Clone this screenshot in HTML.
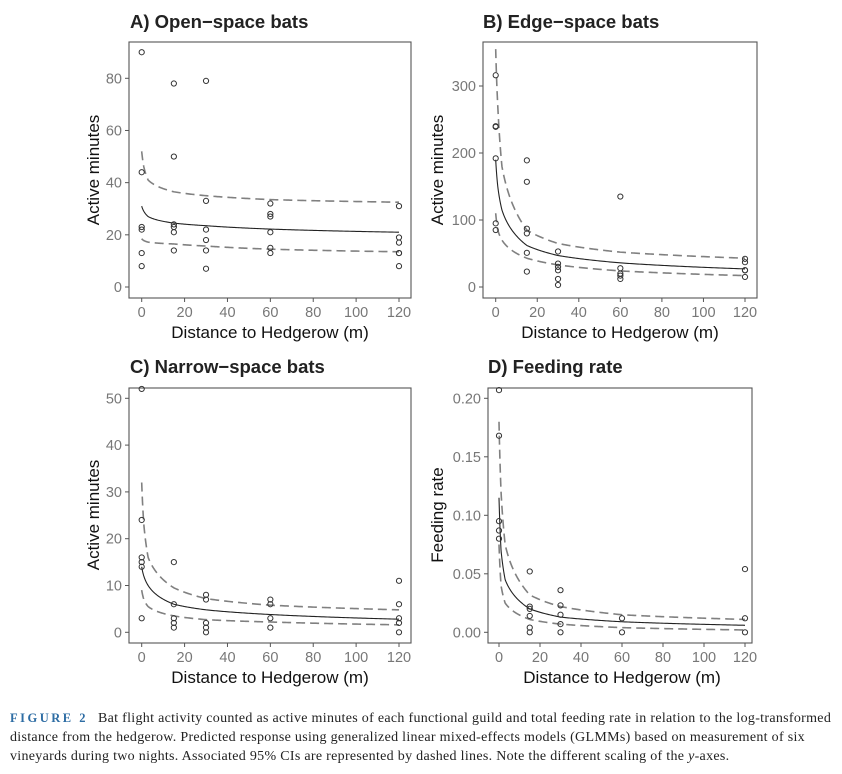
<!DOCTYPE html>
<html><head><meta charset="utf-8"><style>
body{margin:0;background:#fff;width:842px;height:774px;overflow:hidden;position:relative;font-family:"Liberation Sans",sans-serif}
svg{position:absolute;left:0;top:0}
.cap{position:absolute;left:10px;top:709px;width:840px;white-space:nowrap;font-family:"Liberation Serif",serif;font-size:14px;letter-spacing:0.3px;line-height:19px;color:#222}
.cap b{color:#2e6da4;letter-spacing:2.5px;font-size:12.5px;margin-right:10px}
</style></head><body>
<svg id="s" width="842" height="774" xmlns="http://www.w3.org/2000/svg" font-family="Liberation Sans, sans-serif">
<g font-weight="bold" font-size="18.5" fill="#222">
<text x="130" y="28">A) Open−space bats</text>
<text x="483" y="28">B) Edge−space bats</text>
<text x="130" y="373">C) Narrow−space bats</text>
<text x="488" y="373">D) Feeding rate</text>
</g>
<g font-size="17" fill="#111" text-anchor="middle">
<text x="270" y="338">Distance to Hedgerow (m)</text>
<text x="620" y="338">Distance to Hedgerow (m)</text>
<text x="270" y="683">Distance to Hedgerow (m)</text>
<text x="622" y="683">Distance to Hedgerow (m)</text>
<text transform="translate(99,170) rotate(-90)">Active minutes</text>
<text transform="translate(443,170) rotate(-90)">Active minutes</text>
<text transform="translate(99,515) rotate(-90)">Active minutes</text>
<text transform="translate(443,515) rotate(-90)">Feeding rate</text>
</g>
<g id="g"></g>
</svg>
<div class="cap"><b>FIGURE 2</b>Bat flight activity counted as active minutes of each functional guild and total feeding rate in relation to the log-transformed<br>distance from the hedgerow. Predicted response using generalized linear mixed-effects models (GLMMs) based on measurement of six<br>vineyards during two nights. Associated 95% CIs are represented by dashed lines. Note the different scaling of the <i>y</i>-axes.</div>
<script>
var K=[0,1,3,15,30,60,120];
var P=[
{box:[129,42,411,298],x0:141.7,x1:399,y0:287,yv:80,yp:78.3,ticks:[0,20,40,60,80],fmt:0,
m:[31,29,27,24.5,23.5,22.2,21],u:[52,46,41,36.5,35,33.5,32.5],l:[18.5,17.8,17.2,16.5,15.7,14.5,13.5],
pts:{0:[90,44,23,22,13,8],15:[78,50,24,23,21,14],30:[79,33,22,18,14,7],60:[32,28,27,21,15,13],120:[31,19,17,13,13,8]}},
{box:[483,42,757,298],x0:495.7,x1:745,y0:287,yv:300,yp:86,ticks:[0,100,200,300],fmt:0,
m:[190,150,115,62,47,36,27],u:[355,270,180,85,65,52,43],l:[110,85,70,43,33,24,17],
pts:{0:[316,240,239,192,95,85],15:[189,157,87,80,51,23],30:[53,35,30,25,12,3],60:[135,28,20,17,12],120:[42,37,25,25,15]}},
{box:[129,388,411,643],x0:141.7,x1:399,y0:632.3,yv:50,yp:398.3,ticks:[0,10,20,30,40,50],fmt:0,
m:[14,12,10,6,4.8,3.8,2.8],u:[32,23,16,9.5,7.2,5.8,4.8],l:[9,7,5.5,3.5,2.7,2.2,1.6],
pts:{0:[52,24,16,15,14,3],15:[15,6,3,2,1],30:[8,7,2,1,0],60:[7,6,3,1],120:[11,6,3,2,0]}},
{box:[488,388,752,643],x0:499,x1:745,y0:632.3,yv:0.2,yp:398.3,ticks:[0,0.05,0.1,0.15,0.2],fmt:2,
m:[0.115,0.07,0.045,0.02,0.013,0.009,0.006],u:[0.18,0.12,0.075,0.032,0.022,0.015,0.011],l:[0.075,0.04,0.025,0.011,0.007,0.004,0.002],
pts:{0:[0.207,0.168,0.095,0.087,0.080],15:[0.052,0.022,0.020,0.014,0.004,0],30:[0.036,0.023,0.015,0.007,0],60:[0.012,0],120:[0.054,0.012,0]}}
];
var g=document.getElementById('g'),h='';
function interp(v,x){var t=Math.log(x+1);for(var i=0;i<K.length-1;i++){var a=Math.log(K[i]+1),b=Math.log(K[i+1]+1);if(t<=b){return v[i]+(v[i+1]-v[i])*(t-a)/(b-a);}}return v[v.length-1];}
P.forEach(function(p){
var X=function(x){return p.x0+(p.x1-p.x0)*x/120},Y=function(y){return p.y0+(p.yp-p.y0)*y/p.yv};
var b=p.box;
h+='<rect x="'+b[0]+'" y="'+b[1]+'" width="'+(b[2]-b[0])+'" height="'+(b[3]-b[1])+'" fill="none" stroke="#555" stroke-width="1.1"/>';
[0,20,40,60,80,100,120].forEach(function(t){var x=X(t);h+='<line x1="'+x+'" x2="'+x+'" y1="'+b[3]+'" y2="'+(b[3]+4)+'" stroke="#555"/><text x="'+x+'" y="'+(b[3]+19)+'" font-size="14.5" fill="#777" text-anchor="middle">'+t+'</text>';});
p.ticks.forEach(function(t){var y=Y(t);h+='<line x1="'+(b[0]-4)+'" x2="'+b[0]+'" y1="'+y+'" y2="'+y+'" stroke="#555"/><text x="'+(b[0]-7)+'" y="'+(y+5)+'" font-size="14.5" fill="#777" text-anchor="end">'+t.toFixed(p.fmt)+'</text>';});
function path(v,st){var d='';for(var i=0;i<=240;i++){var x=120*Math.pow(i/240,2.2);d+=(i?'L':'M')+X(x).toFixed(2)+' '+Y(interp(v,x)).toFixed(2);}h+='<path d="'+d+'" fill="none" '+st+'/>';}
path(p.u,'stroke="#808080" stroke-width="1.6" stroke-dasharray="9,5"');
path(p.l,'stroke="#808080" stroke-width="1.6" stroke-dasharray="9,5"');
path(p.m,'stroke="#222" stroke-width="1.1"');
for(var k in p.pts){p.pts[k].forEach(function(v){h+='<circle cx="'+X(+k)+'" cy="'+Y(v)+'" r="2.6" fill="none" stroke="#333" stroke-width="1"/>';});}
});
g.innerHTML=h;
</script>
</body></html>
